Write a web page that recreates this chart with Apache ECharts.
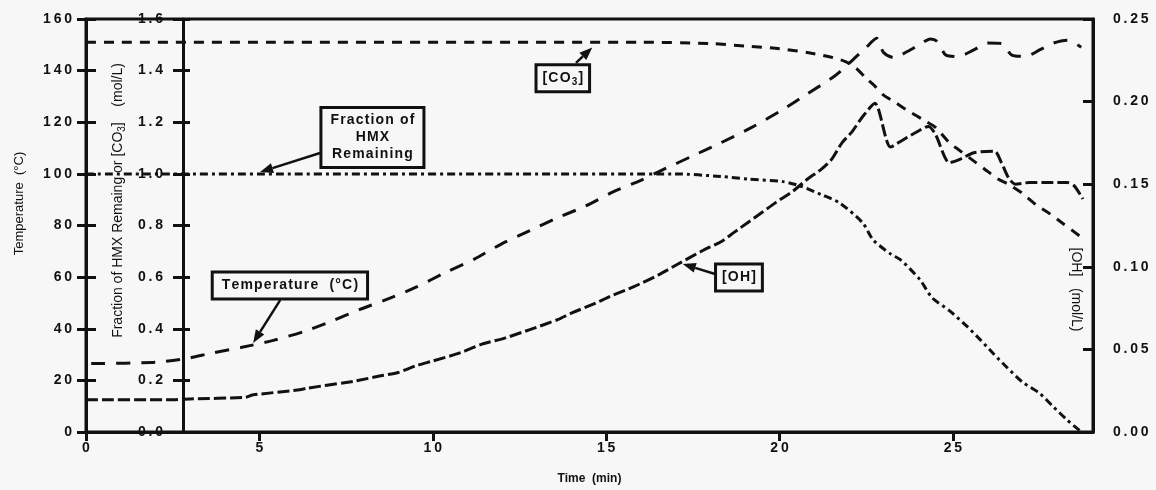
<!DOCTYPE html>
<html>
<head>
<meta charset="utf-8">
<script src="https://cdn.jsdelivr.net/npm/echarts@6/dist/echarts.min.js"></script>
<style>
  html, body { margin: 0; padding: 0; background: #f7f7f7; }
  #chart { width: 1156px; height: 490px; }
</style>
</head>
<body>
<div id="chart"></div>
<script>
// values: time in min
const tempTime = [0.15, 2.0, 2.9, 3.6, 4.5, 5.4, 6.3, 7.1, 7.9, 8.6, 9.5, 10.4, 11.2, 12.0, 12.8, 13.6, 14.4, 15.2, 16.0, 16.7, 17.5, 18.3, 19.2, 20.1, 20.8, 21.6, 22.1, 22.5, 22.8, 23.0, 23.3, 23.7, 24.1, 24.35, 24.55, 24.8, 25.15, 25.6, 26.0, 26.4, 26.7, 27.1, 27.5, 27.9, 28.3, 28.7];
const tempVals = [26.5, 27, 28.5, 30.5, 32.8, 35.5, 39, 43, 47.5, 51, 56, 62, 67, 73, 78, 83, 87.5, 93, 97.5, 102, 107, 112, 118, 125, 131, 138, 144, 149, 152.5, 147, 145, 147.5, 150.7, 152.3, 151.3, 146, 145.5, 148, 150.7, 150.5, 146, 145.5, 148, 150.7, 151.8, 149];

const hmxTime = [0, 17.0, 18.3, 19.1, 20.1, 20.6, 21.2, 21.74, 22.4, 22.7, 23.2, 23.5, 24.05, 24.4, 24.9, 25.4, 25.8, 26.15, 26.56, 27.0, 27.5, 27.9, 28.3, 28.66];
const hmxVals = [1.0, 1.0, 0.99, 0.98, 0.97, 0.953, 0.92, 0.887, 0.81, 0.744, 0.69, 0.666, 0.59, 0.52, 0.47, 0.41, 0.356, 0.306, 0.25, 0.194, 0.15, 0.097, 0.046, 0.005];

const co3Time = [0, 16.0, 18.0, 19.0, 20.0, 20.8, 21.4, 21.9, 22.2, 22.5, 22.75, 23.0, 23.3, 23.7, 24.2, 24.5, 24.9, 25.1, 25.5, 25.9, 26.3, 26.6, 27.0, 27.4, 27.8, 28.2, 28.7];
const co3Vals = [1.51, 1.51, 1.505, 1.495, 1.485, 1.47, 1.455, 1.435, 1.41, 1.37, 1.34, 1.305, 1.28, 1.245, 1.205, 1.18, 1.12, 1.10, 1.06, 1.02, 0.98, 0.96, 0.925, 0.88, 0.845, 0.805, 0.755];

const ohTime = [0, 2.5, 3.0, 4.6, 4.8, 6.1, 6.4, 7.5, 7.8, 8.5, 9.0, 9.5, 10.0, 10.8, 11.4, 12.1, 12.8, 13.6, 14.0, 14.7, 15.1, 15.8, 16.5, 17.1, 17.8, 18.3, 18.7, 19.1, 19.5, 19.9, 20.4, 20.8, 21.2, 21.5, 21.8, 22.1, 22.4, 22.75, 23.2, 23.5, 23.9, 24.3, 24.5, 24.9, 25.2, 25.6, 26.2, 26.4, 26.6, 26.8, 27.2, 27.8, 28.3, 28.5, 28.75];
const ohVals = [0.0195, 0.0195, 0.020, 0.021, 0.0224, 0.0254, 0.0266, 0.030, 0.031, 0.034, 0.036, 0.040, 0.043, 0.048, 0.053, 0.057, 0.062, 0.068, 0.072, 0.078, 0.082, 0.088, 0.095, 0.102, 0.110, 0.115, 0.121, 0.127, 0.133, 0.139, 0.146, 0.153, 0.159, 0.165, 0.175, 0.182, 0.191, 0.199, 0.1725, 0.176, 0.181, 0.185, 0.180, 0.163, 0.165, 0.169, 0.170, 0.163, 0.154, 0.150, 0.151, 0.151, 0.151, 0.149, 0.141];

// axis ranges / tick steps
const timeMax = 29.04;
const timeStep = 5;
const tempMax = 160, tempStep = 20;
const fracMax = 1.6, fracStep = 0.2;
const ohMax = 0.25, ohStep = 0.05;

const INK = '#111';
const FONT = '"Liberation Sans", Arial, sans-serif';

const zip = (xs, ys) => xs.map((x, i) => [x, ys[i]]);
// the scan has wide letter spacing on every number
const spaced = s => String(s).split('').join('\u2009');

const chart = echarts.init(document.getElementById('chart'));

const tickLabel = {
  color: INK, fontWeight: 'bold', fontSize: 14, fontFamily: FONT
};
const axisLine = {show: true, lineStyle: {color: INK, width: 3}};

function lineSeries(name, data, yAxisIndex, dash) {
  return {
    name, type: 'line', data, yAxisIndex,
    showSymbol: false, smooth: 0.25,
    lineStyle: {color: INK, width: 3, type: dash, cap: 'butt', join: 'round'},
    z: 3
  };
}

const option = {
  backgroundColor: '#f7f7f7',
  animation: false,
  grid: {
    left: 86, right: 63, top: 19, bottom: 58,
    show: true, borderColor: INK, borderWidth: 3, backgroundColor: 'transparent'
  },
  xAxis: {
    type: 'value', min: 0, max: timeMax, interval: timeStep,
    axisLine,
    axisTick: {length: 9, lineStyle: {color: INK, width: 3}},
    axisLabel: Object.assign({}, tickLabel, {margin: 9, showMaxLabel: false, formatter: v => spaced(v)}),
    splitLine: {show: false},
    name: 'Time  (min)', nameLocation: 'middle', nameGap: 41,
    nameTextStyle: {color: INK, fontSize: 12, fontWeight: 'bold', fontFamily: FONT}
  },
  yAxis: [
    { // temperature, outer left
      type: 'value', position: 'left', min: 0, max: tempMax, interval: tempStep,
      axisLine,
      axisTick: {length: 9, lineStyle: {color: INK, width: 3}},
      axisLabel: Object.assign({}, tickLabel, {margin: 14, formatter: v => spaced(v)}),
      splitLine: {show: false},
      name: 'Temperature  (°C)', nameLocation: 'middle', nameGap: 60,
      nameTextStyle: {color: INK, fontSize: 13, fontFamily: FONT, padding: [0, 0, 0, 44]}
    },
    { // fraction of HMX / [CO3], inner axis
      type: 'value', position: 'left', offset: -97, min: 0, max: fracMax, interval: fracStep,
      axisLine,
      axisTick: {length: 10, lineStyle: {color: INK, width: 3}},
      axisLabel: Object.assign({}, tickLabel, {margin: 20, formatter: v => spaced(v.toFixed(1))}),
      splitLine: {show: false},
      name: 'Fraction of HMX Remaing or [CO{sub|3}]    (mol/L)', nameLocation: 'middle', nameGap: 55,
      nameTextStyle: {
        color: INK, fontSize: 14, fontFamily: FONT, padding: [0, 0, 0, 50],
        rich: {sub: {fontSize: 10, color: INK, fontFamily: FONT, padding: [7, 0, 0, 0]}}
      }
    },
    { // [OH], right
      type: 'value', position: 'right', min: 0, max: ohMax, interval: ohStep,
      axisLine,
      axisTick: {inside: true, length: 10, lineStyle: {color: INK, width: 3}},
      axisLabel: Object.assign({}, tickLabel, {margin: 20, formatter: v => spaced(v.toFixed(2))}),
      splitLine: {show: false},
      name: '[OH]   (mol/L)', nameLocation: 'middle', nameGap: -24, nameRotate: -90,
      nameTextStyle: {color: INK, fontSize: 14, fontFamily: FONT, padding: [0, 0, 0, 128]}
    },
    { // inside half of the temperature ticks
      type: 'value', position: 'left', min: 0, max: tempMax, interval: tempStep,
      axisLine: {show: false}, axisLabel: {show: false}, splitLine: {show: false},
      axisTick: {inside: true, length: 10, lineStyle: {color: INK, width: 3}}
    },
    { // inside half of the fraction ticks
      type: 'value', position: 'left', offset: -97, min: 0, max: fracMax, interval: fracStep,
      axisLine: {show: false}, axisLabel: {show: false}, splitLine: {show: false},
      axisTick: {inside: true, length: 7, lineStyle: {color: INK, width: 3}}
    }
  ],
  series: [
    lineSeries('Temperature', zip(tempTime, tempVals), 0, [14, 11]),
    lineSeries('[CO3]', zip(co3Time, co3Vals), 1, [10, 8]),
    lineSeries('Fraction of HMX Remaining', zip(hmxTime, hmxVals), 1, [8, 4, 3, 4]),
    lineSeries('[OH]', zip(ohTime, ohVals), 2, [12, 4])
  ]
};
chart.setOption(option);

// call-out boxes, anchored in (time, fraction) coordinates
const callouts = [
  {text: 'Fraction of\nHMX\nRemaining', box: [8.26, 1.141], tail: [6.75, 1.081], head: [5.02, 1.007], lineHeight: 17, pad: [3, 8, 3, 8]},
  {text: '[CO{sub|3}]', box: [13.75, 1.37], tail: [14.13, 1.43], head: [14.6, 1.49], lineHeight: 18, pad: [3, 5, 3, 5]},
  {text: 'Temperature  (°C)', box: [5.88, 0.568], tail: [5.6, 0.511], head: [4.82, 0.345], lineHeight: 18, pad: [3, 8, 3, 8]},
  {text: '[OH]', box: [18.83, 0.599], tail: [18.14, 0.612], head: [17.21, 0.651], lineHeight: 18, pad: [3, 5, 3, 5]}
];

const toPx = p => chart.convertToPixel({xAxisIndex: 0, yAxisIndex: 1}, p);
const hair = s => s.split('\n').map(l => l.replace(/\{sub\|3\}/, '\u0000').split('').join('\u200a').replace('\u0000', '{sub|3}')).join('\n');

const elements = [];
callouts.forEach(c => {
  const b = toPx(c.box), t = toPx(c.tail), h = toPx(c.head);
  const ang = Math.atan2(h[1] - t[1], h[0] - t[0]);
  const L = 13, W = 5;
  const bx = h[0] - L * Math.cos(ang), by = h[1] - L * Math.sin(ang);
  elements.push({
    type: 'line', z: 10,
    shape: {x1: t[0], y1: t[1], x2: bx, y2: by},
    style: {stroke: INK, lineWidth: 2.5}
  });
  elements.push({
    type: 'polygon', z: 10,
    shape: {points: [h, [bx - W * Math.sin(ang), by + W * Math.cos(ang)], [bx + W * Math.sin(ang), by - W * Math.cos(ang)]]},
    style: {fill: INK}
  });
  elements.push({
    type: 'text', z: 11, x: b[0], y: b[1],
    style: {
      text: hair(c.text), align: 'center', verticalAlign: 'middle',
      font: 'bold 14px ' + FONT, fill: INK, lineHeight: c.lineHeight,
      backgroundColor: '#f7f7f7', borderColor: INK, borderWidth: 3, padding: c.pad,
      rich: {sub: {font: 'bold 10px ' + FONT, fill: INK, padding: [7, 0, 0, 0]}}
    }
  });
});
chart.setOption({graphic: {elements}});
</script>
</body>
</html>
